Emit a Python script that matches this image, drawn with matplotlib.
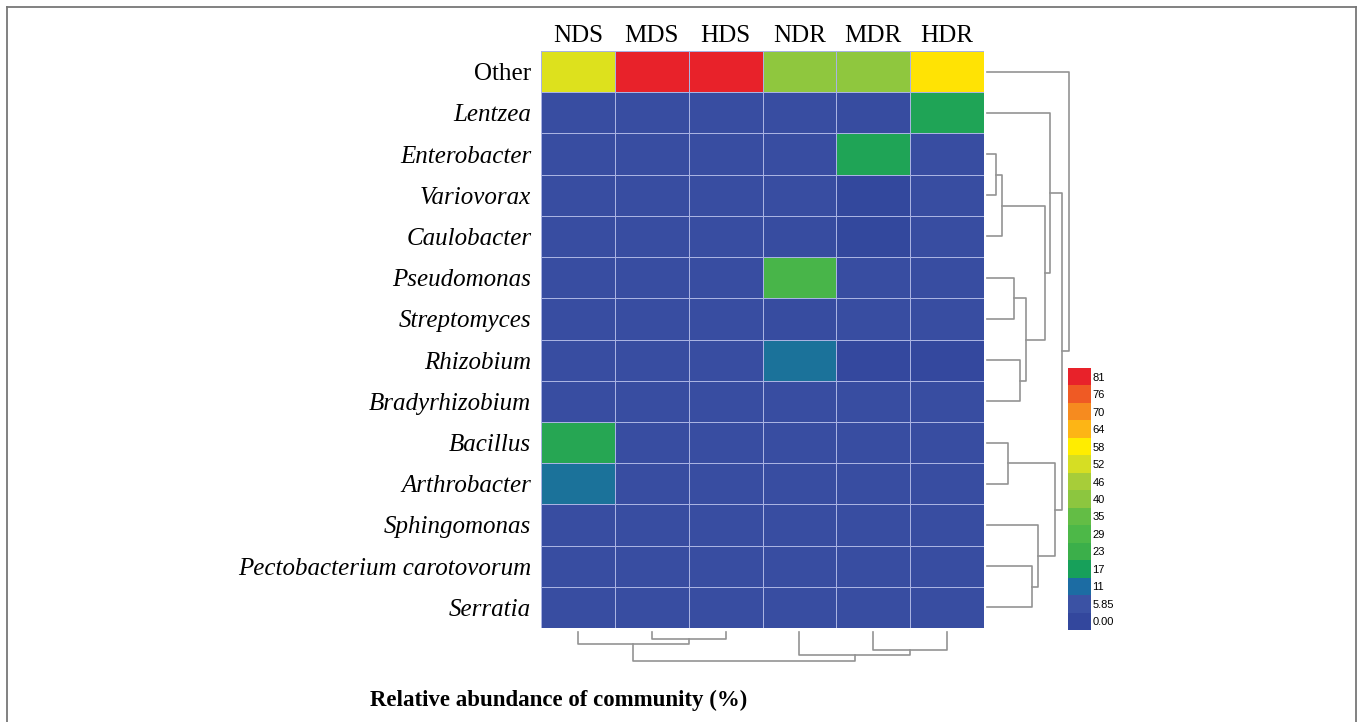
import numpy as np
import matplotlib
matplotlib.use("Agg")
import matplotlib.pyplot as plt
from matplotlib.colors import ListedColormap, BoundaryNorm, LinearSegmentedColormap
from matplotlib.lines import Line2D

samples = ["NDS", "MDS", "HDS", "NDR", "MDR", "HDR"]
genera = ["Other", "Lentzea", "Enterobacter", "Variovorax", "Caulobacter",
          "Pseudomonas", "Streptomyces", "Rhizobium", "Bradyrhizobium",
          "Bacillus", "Arthrobacter", "Sphingomonas",
          "Pectobacterium carotovorum", "Serratia"]

# relative abundance (%), rows = genera, cols = samples
abundance = np.array([
    [53.5, 84.0, 84.0, 41.5, 41.5, 59.5],   # Other
    [3.5, 3.5, 3.5, 3.5, 3.0, 19.0],        # Lentzea
    [3.5, 3.5, 3.5, 3.5, 19.0, 3.5],        # Enterobacter
    [3.5, 3.5, 3.5, 3.5, 0.5, 3.5],         # Variovorax
    [3.5, 3.5, 3.5, 3.0, 0.5, 3.5],         # Caulobacter
    [3.5, 3.5, 3.5, 27.5, 3.5, 3.5],        # Pseudomonas
    [3.5, 3.5, 3.5, 3.0, 3.5, 3.5],         # Streptomyces
    [3.5, 3.5, 3.5, 12.5, 0.8, 1.0],        # Rhizobium
    [3.5, 3.5, 3.5, 3.5, 3.5, 3.5],         # Bradyrhizobium
    [20.0, 3.5, 3.5, 3.5, 3.5, 3.5],        # Bacillus
    [12.5, 3.5, 3.5, 3.5, 3.5, 3.5],        # Arthrobacter
    [3.5, 3.5, 3.5, 3.5, 3.5, 3.5],         # Sphingomonas
    [3.5, 3.5, 3.5, 3.5, 3.5, 3.5],         # Pectobacterium carotovorum
    [3.5, 3.5, 3.5, 3.5, 3.5, 3.5],         # Serratia
])

# colour bands (lower edge of each band) and their labels
band_step = 5.85
band_labels = ["0.00", "5.85", "11", "17", "23", "29", "35", "40",
               "46", "52", "58", "64", "70", "76", "81"]
band_colors = ["#33479d", "#3b52a4", "#1c6ca3", "#17a05a", "#3baf4a",
               "#4db848", "#63bd45", "#8cc63f", "#a7cd39", "#d6de23",
               "#ffed00", "#fdb515", "#f68b1f", "#ef5a24", "#e8222a"]

# hierarchical clustering: (child_a, child_b, height); leaves are display order
row_links = [(2, 3, 9), (14, 4, 15), (5, 6, 27), (7, 8, 33), (16, 17, 39),
             (15, 18, 58), (1, 19, 63), (9, 10, 21), (12, 13, 45),
             (11, 22, 51), (21, 23, 68), (20, 24, 75), (0, 25, 82)]
col_links = [(1, 2, 7), (0, 6, 12), (4, 5, 18), (3, 8, 23), (7, 9, 29)]

serif = ["Liberation Serif", "DejaVu Serif"]
W, H = 1360, 722
fig = plt.figure(figsize=(W / 100, H / 100), dpi=100)

nb = len(band_colors)
vmax = band_step * nb
edges = np.arange(nb + 1) * band_step
cmap_cells = LinearSegmentedColormap.from_list(
    "abund", [(e / vmax, c) for e, c in zip(edges[:-1], band_colors)] + [(1.0, band_colors[-1])])

# heatmap
hl, hr, ht, hb = 541, 984, 51, 628
ax = fig.add_axes([hl / W, 1 - hb / H, (hr - hl) / W, (hb - ht) / H])
ax.pcolormesh(abundance, cmap=cmap_cells, vmin=0, vmax=vmax,
              edgecolors="#a9b3e2", linewidth=0.7)
ax.set_xlim(0, len(samples))
ax.set_ylim(len(genera), 0)
ax.set_xticks(np.arange(len(samples)) + 0.5)
ax.set_xticklabels(samples, fontsize=18, family=serif)
ax.xaxis.tick_top()
ax.set_yticks(np.arange(len(genera)) + 0.5)
ax.set_yticklabels(genera, fontsize=18, family=serif)
for lab in ax.get_yticklabels():
    if lab.get_text() != "Other":
        lab.set_style("italic")
ax.tick_params(length=0, pad=7)
ax.tick_params(axis="x", pad=3)
for s in ax.spines.values():
    s.set_visible(False)


def dendro_segments(links, n):
    pos = {i: i + 0.5 for i in range(n)}
    hgt = {i: 0.0 for i in range(n)}
    segs = []
    for k, (a, b, h) in enumerate(links):
        segs.append(([pos[a], pos[a], pos[b], pos[b]], [hgt[a], h, h, hgt[b]]))
        pos[n + k] = (pos[a] + pos[b]) / 2
        hgt[n + k] = h
    return segs


dcol = "#939393"
# row dendrogram on the right
axr = fig.add_axes([(hr + 1) / W, 1 - hb / H, 90 / W, (hb - ht) / H])
for p, h in dendro_segments(row_links, len(genera)):
    axr.plot(np.array(h) + 2, p, color=dcol, lw=1.2)
axr.set_ylim(len(genera), 0)
axr.set_xlim(0, 90)
axr.axis("off")

# column dendrogram below
axc = fig.add_axes([hl / W, 1 - 668 / H, (hr - hl) / W, 40 / H])
for p, h in dendro_segments(col_links, len(samples)):
    axc.plot(p, np.array(h) + 4, color=dcol, lw=1.2)
axc.set_xlim(0, len(samples))
axc.set_ylim(40, 0)
axc.axis("off")

# colour key
axk = fig.add_axes([1068 / W, 1 - 630 / H, 23 / W, 262 / H])
sm = plt.cm.ScalarMappable(cmap=ListedColormap(band_colors), norm=BoundaryNorm(edges, nb))
cb = fig.colorbar(sm, cax=axk, ticks=edges[:-1] + band_step / 2)
cb.set_ticklabels(band_labels)
cb.outline.set_visible(False)
cb.minorticks_off()
axk.tick_params(length=0, pad=1, labelsize=8)
for lab in axk.get_yticklabels():
    lab.set_family(["Liberation Sans Narrow", "Liberation Sans", "DejaVu Sans"])

fig.text(559 / W, 1 - 700 / H, "Relative abundance of community (%)",
         ha="center", va="center", fontsize=16.5, fontweight="bold", family=serif)

# outer frame (open at the bottom)
fx0, fx1, fy = 6.5 / W, 1355.5 / W, 1 - 6.5 / H
for xs, ys in [([fx0, fx0], [0, fy]), ([fx0, fx1], [fy, fy]), ([fx1, fx1], [fy, 0])]:
    fig.add_artist(Line2D(xs, ys, color="#777777", lw=1.3, transform=fig.transFigure))

fig.savefig("out.png", dpi=100)
